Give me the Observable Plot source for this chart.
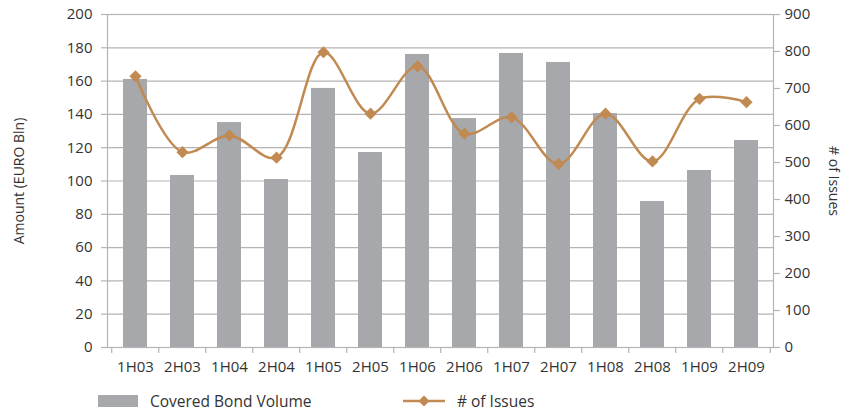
<!DOCTYPE html>
<html>
<head>
<meta charset="utf-8">
<script src="https://cdn.jsdelivr.net/npm/d3@7"></script>
<script src="https://cdn.jsdelivr.net/npm/@observablehq/plot@0.6"></script>
<style>
  html, body { margin: 0; padding: 0; background: #fff; }
  #chart { width: 843px; height: 417px; font-family: "Open Sans", sans-serif; color: #333; }
  .legend { position: relative; height: 32px; width: 843px; font-size: 15.5px; color: #333; }
  .legend .item { position: absolute; top: 0; height: 32px; display: flex; align-items: center; }
  .legend svg { margin-right: 12px; }
</style>
</head>
<body>
<div id="chart"></div>
<script>
const categories = ["1H03","2H03","1H04","2H04","1H05","2H05","1H06","2H06","1H07","2H07","1H08","2H08","1H09","2H09"];
const volume = [161, 103.3, 135.1, 100.9, 155.6, 117.1, 176, 137.5, 176.6, 171.2, 140.5, 87.7, 106.3, 124.3];
const issues = [733, 528, 573, 513, 798, 632, 760, 578, 622, 496, 632, 503, 672, 663];
const leftTicks = [0, 20, 40, 60, 80, 100, 120, 140, 160, 180, 200];
const rightTicks = [0, 100, 200, 300, 400, 500, 600, 700, 800, 900];
const seriesNames = ["Covered Bond Volume", "# of Issues"];

const data = categories.map((c, i) => ({cat: c, vol: volume[i], iss: issues[i]}));
const ratio = 900 / 200;
const barColor = "#a7a8ab";
const lineColor = "#c08a52";
const gridColor = "#b4b4b4";

const chart = Plot.plot({
  width: 843,
  height: 385,
  marginLeft: 107,
  marginRight: 70,
  marginTop: 14,
  marginBottom: 38,
  style: {fontFamily: "Open Sans, sans-serif", fontSize: "15px", color: "#333", background: "#fff"},
  x: {domain: categories, paddingInner: 0.5, paddingOuter: 0.25, label: null},
  y: {domain: [0, 200], label: null},
  marks: [
    Plot.gridY(leftTicks, {stroke: gridColor, strokeOpacity: 1, strokeWidth: 1.2}),
    Plot.barY(data, {x: "cat", y: "vol", fill: barColor}),
    Plot.frame({stroke: gridColor, strokeWidth: 1.2}),
    Plot.ruleX(categories, {x: d => d, dx: -47.57 / 2, y1: 0, y2: -6 * 200 / 333, stroke: gridColor, strokeWidth: 1.2, clip: false}),
    Plot.ruleX([categories[categories.length - 1]], {x: d => d, dx: 47.57 / 2, y1: 0, y2: -6 * 200 / 333, stroke: gridColor, strokeWidth: 1.2}),
    Plot.line(data, {x: "cat", y: d => d.iss / ratio, curve: "catmull-rom", stroke: lineColor, strokeWidth: 2.5}),
    Plot.dot(data, {x: "cat", y: d => d.iss / ratio, symbol: "diamond2", r: 5.5, fill: lineColor, stroke: "none"}),
    Plot.axisY(leftTicks, {anchor: "left", tickSize: 6, tickPadding: 9, stroke: gridColor, strokeWidth: 1.2, label: null, fill: "#333"}),
    Plot.axisY(rightTicks, {anchor: "right", y: d => d / ratio, text: d => String(d), tickSize: 6, tickPadding: 5, stroke: gridColor, strokeWidth: 1.2, label: null, fill: "#333"}),
    Plot.axisX({anchor: "bottom", tickSize: 0, tickPadding: 14, label: null, fill: "#333"}),
    Plot.text(["Amount (EURO Bln)"], {frameAnchor: "left", textAnchor: "middle", dx: -88, rotate: -90, fill: "#333", fontSize: 14}),
    Plot.text(["# of Issues"], {frameAnchor: "right", textAnchor: "middle", dx: 60, rotate: 90, fill: "#333", fontSize: 14})
  ]
});

const root = document.getElementById("chart");
root.appendChild(chart);

const legend = document.createElement("div");
legend.className = "legend";
legend.innerHTML = `
  <div class="item" style="left:98px">
    <svg width="40" height="12"><rect x="0" y="0" width="40" height="12" fill="${barColor}"></rect></svg>
    <span>${seriesNames[0]}</span>
  </div>
  <div class="item" style="left:403px">
    <svg width="42" height="14"><line x1="0" y1="7" x2="42" y2="7" stroke="${lineColor}" stroke-width="2.5"></line><path d="M21,1.5 L26.5,7 L21,12.5 L15.5,7 Z" fill="${lineColor}"></path></svg>
    <span>${seriesNames[1]}</span>
  </div>`;
root.appendChild(legend);
</script>
</body>
</html>
